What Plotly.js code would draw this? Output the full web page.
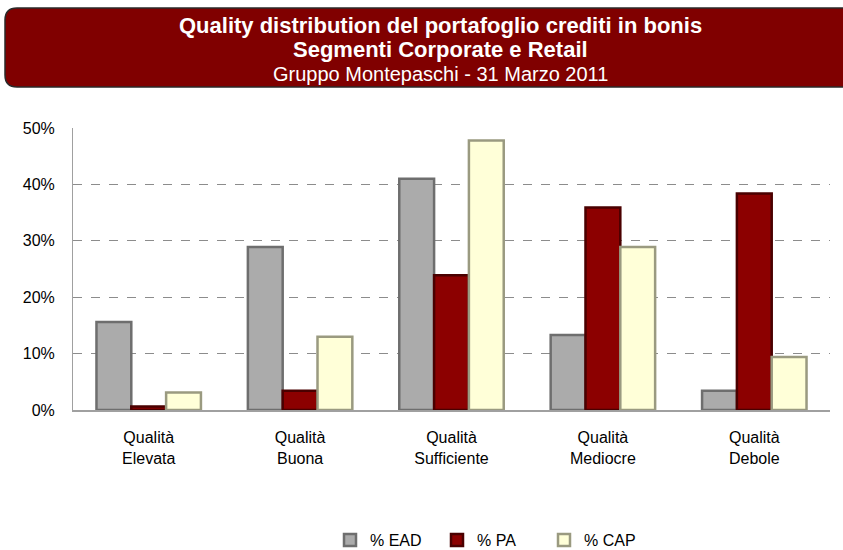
<!DOCTYPE html>
<html>
<head>
<meta charset="utf-8">
<script src="https://cdn.plot.ly/plotly-3.0.1.min.js"></script>
<style>html,body{margin:0;padding:0;background:#fff;}</style>
</head>
<body>
<div id="chart" style="width:843px;height:550px;"></div>
<script>
var categories = ["Qualità<br>Elevata", "Qualità<br>Buona", "Qualità<br>Sufficiente", "Qualità<br>Mediocre", "Qualità<br>Debole"];
var seriesNames = ["% EAD", "% PA", "% CAP"];
var ead = [15.6, 28.9, 41.0, 13.3, 3.4];
var pa  = [0.6, 3.4, 23.9, 35.9, 38.4];
var cap = [3.1, 13.0, 47.8, 28.9, 9.4];
var yTicks = [0, 10, 20, 30, 40, 50];

var fills = ["#ABABAB", "#8C0000", "#FFFFD8"];
var edges = ["#6E6E6E", "#4A0000", "#9A9A80"];
var values = [ead, pa, cap];

var traces = values.map(function (v, i) {
  return {
    type: "bar",
    name: seriesNames[i],
    x: categories,
    y: v,
    marker: { color: fills[i], line: { color: edges[i], width: 2.5 } },
    hoverinfo: "skip"
  };
});

// plot area in pixels: left 73, right 830, top 128, bottom 410
var L = 73, R = 830, T = 128, B = 410;
function px(xp) { return (xp - L) / (R - L); }
function py(yp) { return (B - yp) / (B - T); }
var bx0 = px(5), bx1 = px(850), by0 = py(87), by1 = py(8);
var rx = 12 / (R - L), ry = 12 / (B - T);
var path = "M " + (bx0 + rx) + "," + by1 +
  " L " + bx1 + "," + by1 +
  " L " + bx1 + "," + by0 +
  " L " + (bx0 + rx) + "," + by0 +
  " Q " + bx0 + "," + by0 + " " + bx0 + "," + (by0 + ry) +
  " L " + bx0 + "," + (by1 - ry) +
  " Q " + bx0 + "," + by1 + " " + (bx0 + rx) + "," + by1 + " Z";

var layout = {
  width: 843, height: 550,
  margin: { l: L, r: 843 - R, t: T, b: 550 - B, autoexpand: false },
  paper_bgcolor: "#ffffff", plot_bgcolor: "#ffffff",
  font: { family: "Liberation Sans, Arial, sans-serif", size: 16, color: "#000" },
  barmode: "group", bargap: 0.31, bargroupgap: 0,
  showlegend: true,
  legend: {
    orientation: "h", x: px(330), xanchor: "left", y: py(540), yanchor: "middle",
    font: { size: 16, color: "#000" }, itemwidth: 30, entrywidth: 62, traceorder: "normal"
  },
  xaxis: {
    showgrid: false, zeroline: false, showline: true, linecolor: "#A0A0A0", linewidth: 2,
    ticks: "", tickfont: { size: 16 }, ticklabelstandoff: 12, fixedrange: true
  },
  yaxis: {
    range: [0, 50], tickvals: yTicks, ticktext: yTicks.map(function (t) { return t + "%"; }),
    showgrid: true, gridcolor: "#8C8C8C", griddash: "dash", gridwidth: 1,
    zeroline: false, showline: true, linecolor: "#A0A0A0", linewidth: 1,
    ticks: "", ticklabelstandoff: 14, tickfont: { size: 16 }, fixedrange: true
  },
  shapes: [
    { type: "path", xref: "paper", yref: "paper", path: path,
      fillcolor: "#800000", line: { color: "#2a2a2a", width: 1.5 }, layer: "above" }
  ],
  annotations: [
    { xref: "paper", yref: "paper", x: px(440), y: py(25), showarrow: false, xanchor: "center", yanchor: "middle",
      text: "<b>Quality distribution del portafoglio crediti in bonis</b>", font: { size: 22, color: "#fff" } },
    { xref: "paper", yref: "paper", x: px(440), y: py(50), showarrow: false, xanchor: "center", yanchor: "middle",
      text: "<b>Segmenti Corporate e Retail</b>", font: { size: 22, color: "#fff" } },
    { xref: "paper", yref: "paper", x: px(440), y: py(74), showarrow: false, xanchor: "center", yanchor: "middle",
      text: "Gruppo Montepaschi - 31 Marzo 2011", font: { size: 20, color: "#fff" } }
  ]
};

Plotly.newPlot("chart", traces, layout, { displayModeBar: false, staticPlot: true });
</script>
</body>
</html>
